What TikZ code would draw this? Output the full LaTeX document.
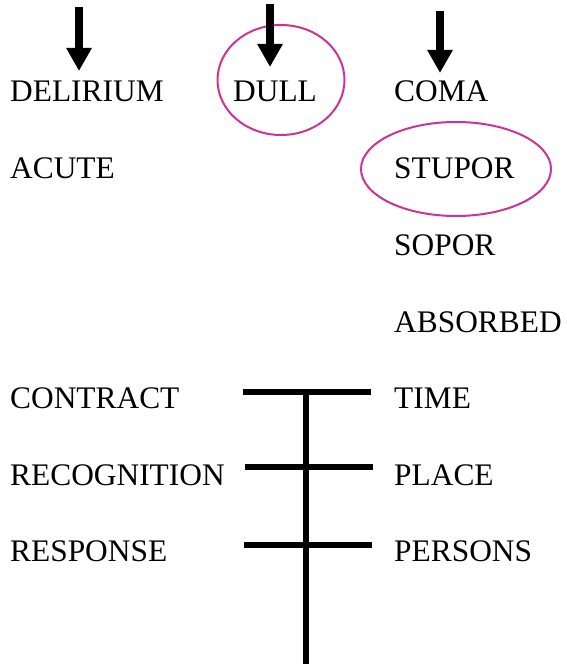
\documentclass[tikz,border=0pt]{standalone}
\usepackage{fontspec}
\setmainfont{Liberation Serif}
\usetikzlibrary{arrows.meta,shapes.geometric}
\definecolor{ring}{HTML}{CC3399}
\begin{document}
\begin{tikzpicture}[x=1pt,y=1pt,
  lbl/.style={anchor=base west, inner sep=0pt, font=\fontsize{31.4}{38}\selectfont},
  pointer/.style={line width=8pt, -{Triangle[width=24pt,length=23pt]}},
  ringnode/.style={draw=ring, line width=2pt, ellipse, inner sep=0pt},
  bar/.style={line width=5.5pt}]
\useasboundingbox (0,0) rectangle (566,664);
% labels
\node[lbl] (delirium) at (10,562) {DELIRIUM};
\node[lbl] (dull) at (233,562) {DULL};
\node[lbl] (coma) at (394,562) {COMA};
\node[lbl] (acute) at (10,485) {ACUTE};
\node[lbl] (stupor) at (394,485) {STUPOR};
\node[lbl] (sopor) at (394,408) {SOPOR};
\node[lbl] (absorbed) at (394,331) {ABSORBED};
\node[lbl] (contract) at (10,255) {CONTRACT};
\node[lbl] (time) at (394,255) {TIME};
\node[lbl] (recognition) at (10,178) {RECOGNITION};
\node[lbl] (place) at (394,178) {PLACE};
\node[lbl] (response) at (10,102) {RESPONSE};
\node[lbl] (persons) at (394,102) {PERSONS};
% rings
\node[ringnode, minimum width=127pt, minimum height=110pt] (dullring) at (281,584) {};
\node[ringnode, minimum width=190pt, minimum height=94pt] (stuporring) at (456,495) {};
% arrows
\coordinate (a1s) at (79,657); \coordinate (a1e) at (79,593);
\coordinate (a2s) at (270,660); \coordinate (a2e) at (270,597);
\coordinate (a3s) at (440,653); \coordinate (a3e) at (440,591);
\draw[pointer] (a1s) -- (a1e);
\draw[pointer] (a2s) -- (a2e);
\draw[pointer] (a3s) -- (a3e);
% bars
\coordinate (b1l) at (243,272); \coordinate (b1r) at (371,272);
\coordinate (b2l) at (245,197); \coordinate (b2r) at (373,197);
\coordinate (b3l) at (244,119); \coordinate (b3r) at (372,119);
\coordinate (vtop) at (306,272); \coordinate (vbot) at (306,0);
\draw[bar] (b1l) -- (b1r);
\draw[bar] (b2l) -- (b2r);
\draw[bar] (b3l) -- (b3r);
\draw[bar] (vtop) -- (vbot);
\end{tikzpicture}
\end{document}
